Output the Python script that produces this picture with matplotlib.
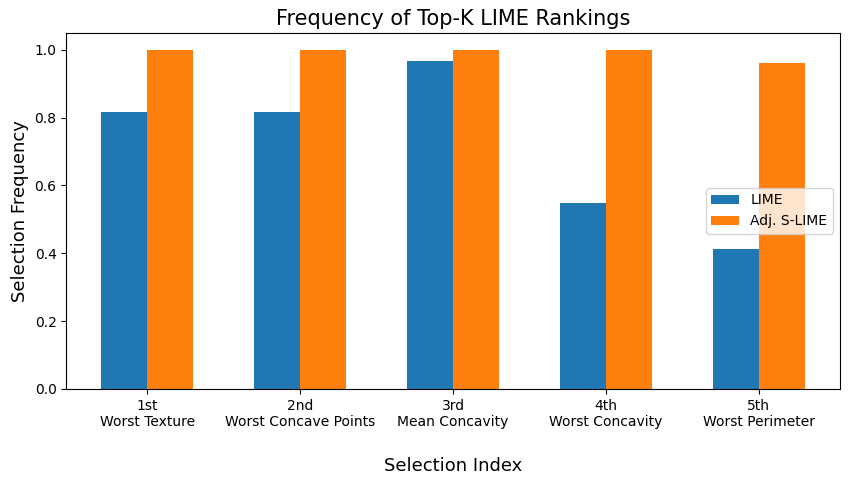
import matplotlib
matplotlib.use("Agg")
import matplotlib.pyplot as plt
import numpy as np

ranks = ["1st\nWorst Texture", "2nd\nWorst Concave Points", "3rd\nMean Concavity",
         "4th\nWorst Concavity", "5th\nWorst Perimeter"]
lime = [0.817, 0.817, 0.967, 0.547, 0.411]
adj_slime = [1.0, 1.0, 1.0, 1.0, 0.962]

x = np.arange(len(ranks))
width = 0.3

fig, ax = plt.subplots(figsize=(8.5, 4.83), dpi=100)
ax.bar(x, lime, width, label="LIME")
ax.bar(x + width, adj_slime, width, label="Adj. S-LIME")

ax.set_xticks(x + width / 2)
ax.set_xticklabels(ranks)
ax.set_title("Frequency of Top-K LIME Rankings", fontsize=15)
ax.set_ylabel("Selection Frequency", fontsize=13)
ax.set_xlabel("Selection Index", fontsize=13, labelpad=20)
ax.legend(loc="center right")

plt.subplots_adjust(left=0.078, right=0.988, top=0.932, bottom=0.195)
plt.savefig("out.png", dpi=100)
